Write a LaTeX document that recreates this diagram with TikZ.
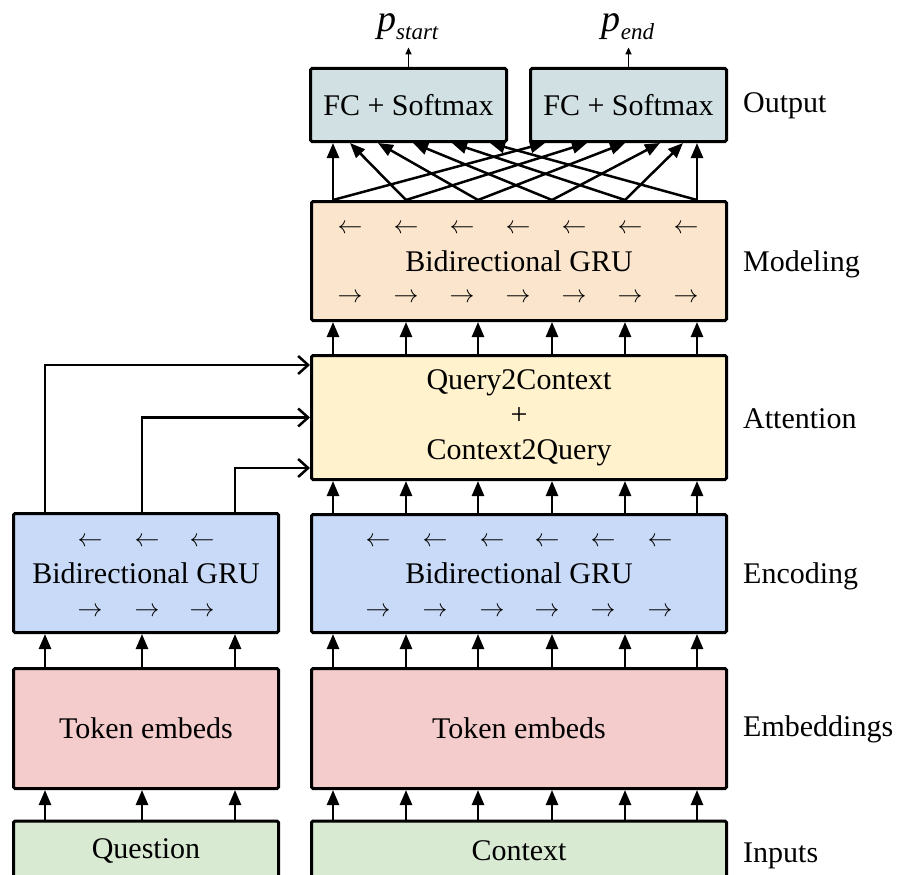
\documentclass[tikz,border=0pt]{standalone}
\usepackage{fontspec}
\setmainfont{Liberation Serif}
\usetikzlibrary{arrows.meta}
\definecolor{outc}{HTML}{D0E0E3}
\definecolor{modc}{HTML}{FCE5CD}
\definecolor{attc}{HTML}{FFF2CC}
\definecolor{encc}{HTML}{C9DAF8}
\definecolor{embc}{HTML}{F4CCCC}
\definecolor{inpc}{HTML}{D9EAD3}
\newcommand{\psub}[1]{\textit{p}\raisebox{-8pt}{\fontsize{23}{23}\selectfont\textit{#1}}}
\begin{document}
\begin{tikzpicture}[x=1pt,y=-1pt,
  font=\fontsize{30}{35}\selectfont,
  box/.style={draw=black, line width=3pt, rounded corners=1.5pt, inner sep=0pt, align=center},
  arr/.style={line width=2.5pt, -{Triangle[length=15pt,width=12pt]}},
  oarr/.style={line width=2.5pt, -{Straight Barb[length=10pt,width=18pt]}},
  sarr/.style={line width=1.5pt, -{Triangle[length=7pt,width=6pt]}},
  dirsym/.style={font=\fontsize{26}{30}\selectfont, inner sep=0pt},
  plabel/.style={font=\fontsize{38}{40}\selectfont, inner xsep=1pt, inner ysep=7pt, anchor=base},
  lbl/.style={anchor=west, inner sep=0pt}]
\useasboundingbox (0,0) rectangle (905,875);
\clip (0,0) rectangle (905,875);

% boxes
\node[box, fill=outc, minimum width=196, minimum height=73] (fc1) at (408.5,105) {FC + Softmax};
\node[box, fill=outc, minimum width=196, minimum height=73] (fc2) at (628.5,105) {FC + Softmax};
\node[box, fill=modc, minimum width=415, minimum height=119] (model) at (519,261) {Bidirectional GRU};
\node[box, fill=attc, minimum width=415, minimum height=124] (attn) at (519,417.5) {Query2Context\\+\\Context2Query};
\node[box, fill=encc, minimum width=415, minimum height=118] (encR) at (519,573.5) {Bidirectional GRU};
\node[box, fill=encc, minimum width=265, minimum height=119] (encL) at (146,573) {Bidirectional GRU};
\node[box, fill=embc, minimum width=415, minimum height=120] (embR) at (519,728.5) {Token embeds};
\node[box, fill=embc, minimum width=265, minimum height=120] (embL) at (146,728.5) {Token embeds};
\node[box, fill=inpc, minimum width=415, minimum height=60] (inR) at (519,851) {Context};
\node[box, fill=inpc, minimum width=265, minimum height=60] (inL) at (146,851) {Question};

% direction symbols
\foreach \x [count=\i] in {350,406,462,518,574,630,686} {
  \node[dirsym] (mL\i) at (\x,229) {$\leftarrow$};
  \node[dirsym] (mR\i) at (\x,298) {$\rightarrow$};
}
\foreach \x [count=\i] in {378,435,492,547,603,660} {
  \node[dirsym] (eL\i) at (\x,542) {$\leftarrow$};
  \node[dirsym] (eR\i) at (\x,612) {$\rightarrow$};
}
\foreach \x [count=\i] in {90,147,202} {
  \node[dirsym] (qL\i) at (\x,542) {$\leftarrow$};
  \node[dirsym] (qR\i) at (\x,612) {$\rightarrow$};
}

% outputs
\node[plabel] (pstart) at (408,32) {\psub{start}};
\node[plabel] (pend) at (628,32) {\psub{end}};
\draw[sarr] (fc1.north) -- (fc1.north |- pstart.south);
\draw[sarr] (fc2.north) -- (fc2.north |- pend.south);

% right column vertical arrows
\foreach \d in {23,96,168,242,315,387} {
  \draw[arr] ([xshift=\d]inR.north west) -- ([xshift=\d]embR.south west);
  \draw[arr] ([xshift=\d]embR.north west) -- ([xshift=\d]encR.south west);
  \draw[arr] ([xshift=\d]encR.north west) -- ([xshift=\d]attn.south west);
  \draw[arr] ([xshift=\d]attn.north west) -- ([xshift=\d]model.south west);
}
% left column vertical arrows
\foreach \d in {33,130,223} {
  \draw[arr] ([xshift=\d]inL.north west) -- ([xshift=\d]embL.south west);
  \draw[arr] ([xshift=\d]embL.north west) -- ([xshift=\d]encL.south west);
}
% modeling to outputs
\foreach \d/\a/\b in {23/24/16, 96/41/58, 168/69/96, 242/104/131, 315/143/154, 387/181/168} {
  \draw[arr] ([xshift=\d]model.north west) -- ([xshift=\a]fc1.south west);
  \draw[arr] ([xshift=\d]model.north west) -- ([xshift=\b]fc2.south west);
}
% question encoding to attention
\draw[oarr] ([xshift=33]encL.north west) |- ([yshift=-11]attn.north west);
\draw[oarr] ([xshift=130]encL.north west) |- (attn.west);
\draw[oarr] ([xshift=223]encL.north west) |- ([yshift=13]attn.south west);

% layer labels
\node[lbl] (lout) at (743,106) {Output};
\node[lbl] (lmod) at (743,264) {Modeling};
\node[lbl] (latt) at (743,419) {Attention};
\node[lbl] (lenc) at (743,576) {Encoding};
\node[lbl] (lemb) at (743,729) {Embeddings};
\node[lbl] (linp) at (743,856) {Inputs};
\end{tikzpicture}
\end{document}
